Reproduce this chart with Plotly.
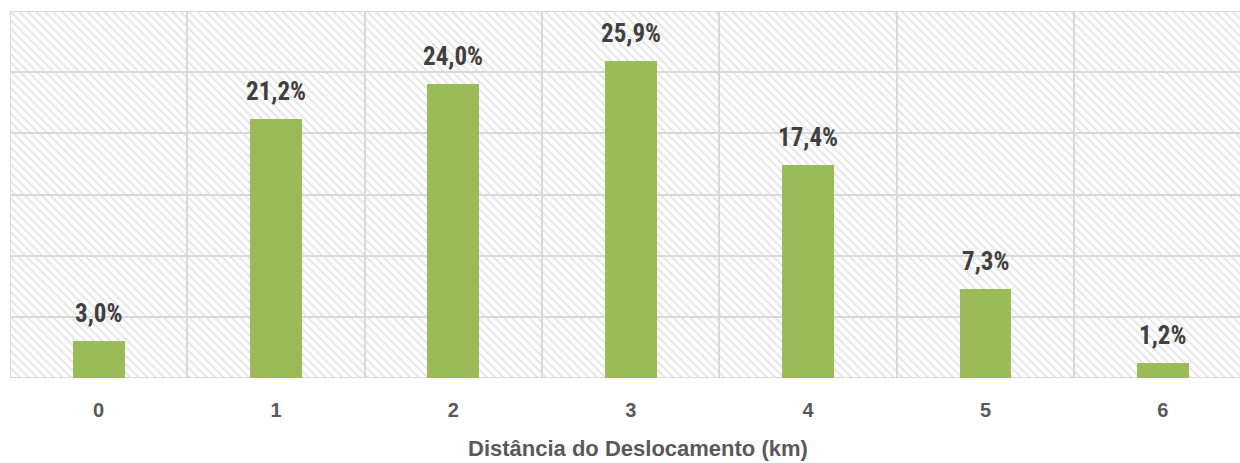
import plotly.graph_objects as go

categories = [0, 1, 2, 3, 4, 5, 6]
values = [3.0, 21.2, 24.0, 25.9, 17.4, 7.3, 1.2]
labels = ["3,0%", "21,2%", "24,0%", "25,9%", "17,4%", "7,3%", "1,2%"]
y_max = 30
y_step = 5
x_title = "Distância do Deslocamento (km)"

NARROW = "Liberation Sans Narrow, Arial Narrow, Roboto Condensed, Liberation Sans, Arial, sans-serif"
WIDE = "Liberation Sans, Arial, sans-serif"

# background hatched grid cells
n_rows = int(y_max / y_step)
bg_x, bg_base, bg_y = [], [], []
for c in categories:
    for r in range(n_rows):
        bg_x.append(c)
        bg_base.append(r * y_step)
        bg_y.append(y_step)

fig = go.Figure()
fig.add_trace(go.Bar(
    x=bg_x, y=bg_y, base=bg_base, width=1,
    marker=dict(color="white",
                line=dict(color="#d9d9d9", width=2),
                pattern=dict(shape="\\", fgcolor="#cccccc", bgcolor="white",
                             size=6, solidity=0.35)),
    hoverinfo="skip", showlegend=False,
))
fig.add_trace(go.Bar(
    x=categories, y=values, width=0.293,
    marker=dict(color="#9BBB59", line=dict(width=0)),
    showlegend=False,
))

for c, v, t in zip(categories, values, labels):
    fig.add_annotation(x=c, y=v, text=f"<b>{t}</b>", showarrow=False,
                       yanchor="bottom", yshift=11,
                       font=dict(family=NARROW, size=25, color="#404040"))

fig.add_annotation(xref="paper", yref="paper", x=0.5, y=0, xshift=13, yshift=-70,
                   yanchor="middle", text=f"<b>{x_title}</b>", showarrow=False,
                   font=dict(family=WIDE, size=22, color="#595959"))

fig.update_layout(
    width=1240, height=463,
    margin=dict(l=10, r=0, t=11, b=85),
    barmode="overlay",
    plot_bgcolor="white", paper_bgcolor="white",
    bargap=0,
)
fig.update_xaxes(
    range=[-0.5, 6.435], tickvals=categories,
    ticktext=[f"<b>{c}</b>" for c in categories],
    showgrid=False, zeroline=False, showline=False,
    ticks="outside", ticklen=14, tickcolor="rgba(0,0,0,0)",
    tickfont=dict(family=WIDE, size=20, color="#595959"),
)
fig.update_yaxes(range=[0, y_max], showticklabels=False, showgrid=False,
                 zeroline=False, showline=False)

fig.write_html("out.html")
